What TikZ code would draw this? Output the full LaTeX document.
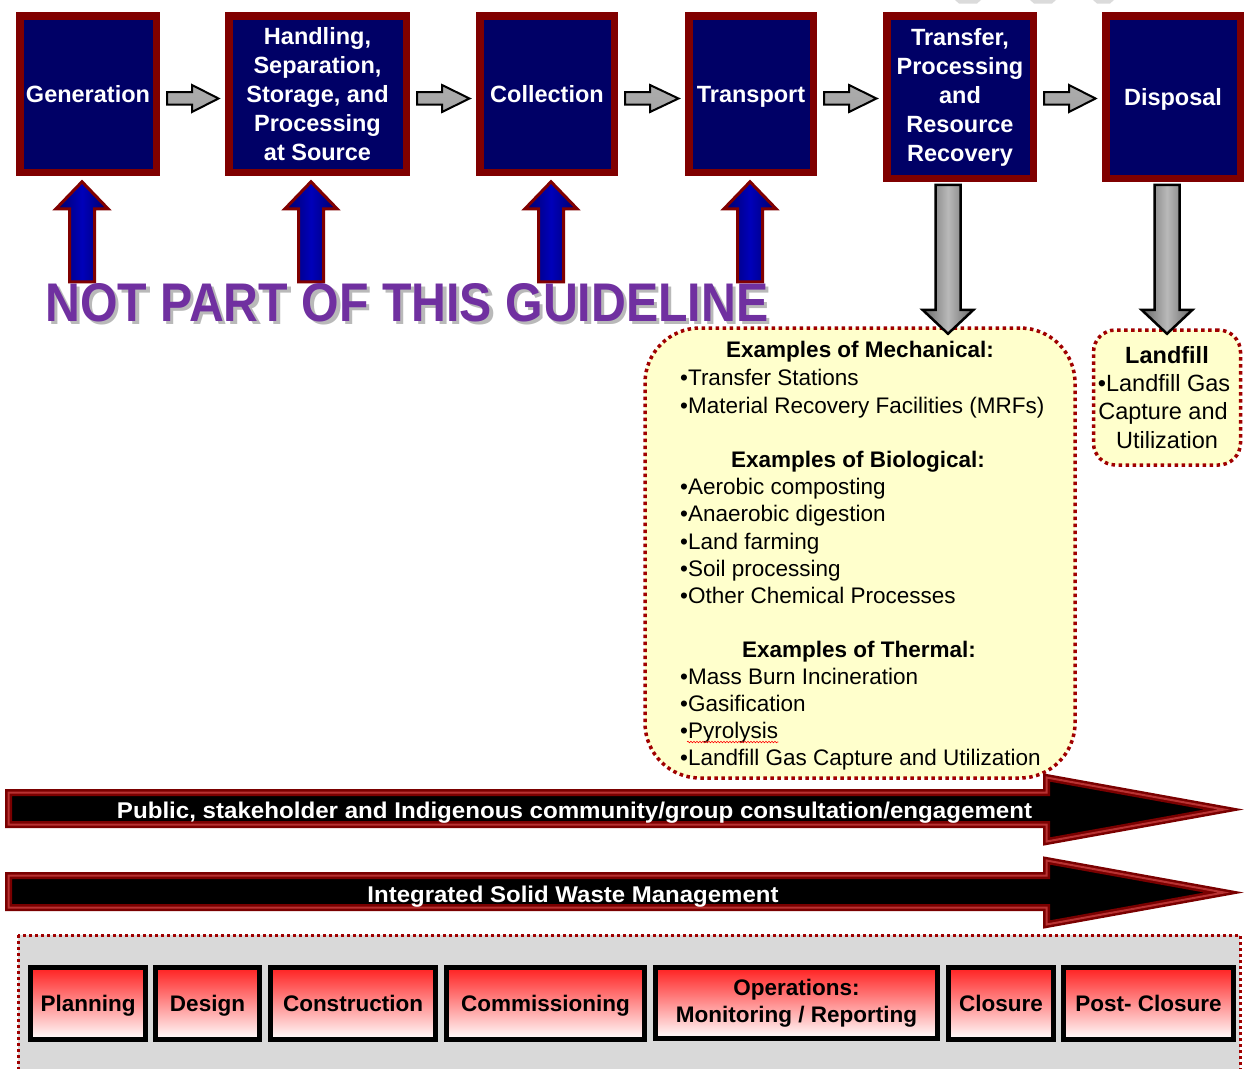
\documentclass[tikz,border=0pt]{standalone}
\usepackage{graphicx}
\usepackage{fontspec}
\setmainfont{Liberation Sans}
\usetikzlibrary{calc,decorations.pathmorphing}
\definecolor{boxnavy}{HTML}{000066}
\definecolor{boxred}{HTML}{800000}
\definecolor{dotred}{HTML}{A00000}
\definecolor{ylw}{HTML}{FFFFCC}
\definecolor{purp}{HTML}{7030A0}
\definecolor{panelgray}{HTML}{D9D9D9}
\definecolor{barred}{HTML}{7A0000}
\definecolor{barhi}{HTML}{B83232}
\definecolor{phred}{HTML}{FF2020}
\tikzset{
 stagebox/.style={draw=boxred, line width=7.5pt, fill=boxnavy, text=white,
   font=\fontsize{23.5pt}{29pt}\selectfont\bfseries, align=center, inner sep=0pt},
 stageone/.style={stagebox, text height=17pt, text depth=0pt},
 flowarr/.style={draw=black, line width=2pt, line join=miter, top color=gray!65, middle color=gray!15, bottom color=gray!70},
 guidearr/.style={draw=boxred, line width=3pt, line join=miter, left color=boxnavy, right color=boxnavy, middle color=blue!55!boxnavy},
 outarr/.style={draw=black, line width=2.5pt, line join=miter, left color=gray!80!black, right color=gray!80!black, middle color=gray!55},
 notebox/.style={draw=dotred, fill=ylw, line width=3.5pt, dash pattern=on 3.5pt off 3.5pt},
 notetext/.style={inner sep=0pt, font=\fontsize{22.5pt}{27pt}\selectfont},
 notehead/.style={inner sep=0pt, font=\fontsize{22.5pt}{27pt}\selectfont\bfseries, anchor=base},
 lftext/.style={inner sep=0pt, font=\fontsize{23.5pt}{29pt}\selectfont, anchor=base},
 barouter/.style={fill=black, draw=barred, line width=7pt, line join=miter},
 barinner/.style={draw=barhi, line width=2pt, line join=miter},
 bartext/.style={inner sep=0pt, text=white, font=\bfseries, anchor=base},
 panel/.style={draw=dotred, fill=panelgray, line width=3pt, dash pattern=on 3pt off 3pt},
 phasebase/.style={draw=black, line width=5pt, top color=phred, bottom color=white, inner sep=0pt,
   font=\fontsize{22.5pt}{27pt}\selectfont\bfseries, align=center},
 phase/.style={phasebase, text height=16.5pt, text depth=0pt, minimum height=72pt},
}
\newcommand{\flowarrow}[2]{%
 \path[flowarr] let \p1=($(#1.east)+(7pt,0)$), \p2=($(#2.west)+(-6.5pt,0)$) in
 (\x1,-92pt) -- ({\x1+25pt},-92pt) -- ({\x1+25pt},-85pt) -- (\x2,-98.5pt) --
 ({\x1+25pt},-112pt) -- ({\x1+25pt},-104.5pt) -- (\x1,-104.5pt) -- cycle;}
\newcommand{\guidearrow}[2]{%
 \path[guidearr] (#1.south) ++(#2,5.75) -- ++(26,27) -- ++(-13.5,0) -- ++(0,73)
 -- ++(-25,0) -- ++(0,-73) -- ++(-13.5,0) -- cycle;}
\newcommand{\outarrow}[2]{%
 \path[outarr] (#1.south) ++(#2,2.75) ++(-12.5,0) -- ++(0,125) -- ++(-13,0)
 -- ++(25.5,24) -- ++(25.5,-24) -- ++(-13,0) -- ++(0,-125) -- cycle;}
\newcommand{\barshape}[1]{%
 \path[#1] (8.5,792.5) -- (1046.5,792.5) -- (1046.5,777.5) -- (1224,809.5)
 -- (1046.5,841.5) -- (1046.5,824.5) -- (8.5,824.5) -- cycle;}
\begin{document}
\begin{tikzpicture}[x=1pt,y=-1pt]
\useasboundingbox (0,0) rectangle (1244,1068);
\fill[white] (0,0) rectangle (1244,1068);
% faint slivers at top edge
\fill[gray!28] (955,0) -- (981,0) -- (977,3.5) -- (959,3.5) -- cycle;
\fill[gray!28] (1030,0) -- (1056,0) -- (1052,3.5) -- (1034,3.5) -- cycle;
\fill[gray!28] (1093,0) -- (1114,0) -- (1110,3.5) -- (1097,3.5) -- cycle;

% top stages
\node[stageone, minimum width=136.5pt, minimum height=156.5pt] (gen) at (88,94) {Generation};
\node[stagebox, minimum width=177.5pt, minimum height=156.5pt] (hand) at (317.5,94)
 {Handling,\\Separation,\\Storage, and\\Processing\\at Source};
\node[stageone, minimum width=134.5pt, minimum height=156.5pt] (coll) at (547,94) {Collection};
\node[stageone, minimum width=124.5pt, minimum height=156.5pt] (trans) at (751,94) {Transport};
\node[stagebox, minimum width=146.5pt, minimum height=162.5pt] (tpr) at (960,97)
 {Transfer,\\Processing\\and\\Resource\\Recovery};
\node[stageone, minimum width=134.5pt, minimum height=162.5pt] (disp) at (1173,97) {Disposal};

\flowarrow{gen}{hand}
\flowarrow{hand}{coll}
\flowarrow{coll}{trans}
\flowarrow{trans}{tpr}
\flowarrow{tpr}{disp}

\guidearrow{gen}{-6}
\guidearrow{hand}{-6.5}
\guidearrow{coll}{4}
\guidearrow{trans}{-1}

% NOT PART label
\node[anchor=base west, inner sep=0pt, text=gray!55] (npshadow) at (48.5,324.5)
 {\resizebox{723pt}{38pt}{\bfseries NOT PART OF THIS GUIDELINE}};
\node[anchor=base west, inner sep=0pt, text=purp] (np) at (45,321)
 {\resizebox{723pt}{38pt}{\bfseries NOT PART OF THIS GUIDELINE}};

% note boxes
\node[notebox, minimum width=430pt, minimum height=450pt, rounded corners=55pt] (mech) at (860,553) {};
\node[notebox, minimum width=147pt, minimum height=135pt, rounded corners=22pt] (lf) at (1167,397.5) {};

\outarrow{tpr}{-12}
\outarrow{disp}{-6}

\node[notehead] (h1) at (860,357) {Examples of Mechanical:};
\node[notetext, anchor=base west] (a1) at (680,385) {•Transfer Stations};
\node[notetext, anchor=base west] (a2) at (680,413) {•Material Recovery Facilities (MRFs)};
\node[notehead] (h2) at (858,467) {Examples of Biological:};
\node[notetext, anchor=base west] (b1) at (680,494) {•Aerobic composting};
\node[notetext, anchor=base west] (b2) at (680,521) {•Anaerobic digestion};
\node[notetext, anchor=base west] (b3) at (680,549) {•Land farming};
\node[notetext, anchor=base west] (b4) at (680,576) {•Soil processing};
\node[notetext, anchor=base west] (b5) at (680,603) {•Other Chemical Processes};
\node[notehead] (h3) at (859,657) {Examples of Thermal:};
\node[notetext, anchor=base west] (c1) at (680,684) {•Mass Burn Incineration};
\node[notetext, anchor=base west] (c2) at (680,711) {•Gasification};
\node[notetext, anchor=base west] (c3) at (680,738) {•Pyrolysis};
\node[notetext, anchor=base west] (c4) at (680,765) {•Landfill Gas Capture and Utilization};
\draw[red, line width=0.6pt, decorate, decoration={snake, amplitude=0.8pt, segment length=3pt}]
 ($(c3.base west)+(7,4)$) -- ($(c3.base east)+(0,4)$);

\node[lftext, font=\fontsize{23.5pt}{29pt}\selectfont\bfseries] (lfh) at (1167,363) {Landfill};
\node[lftext] (lf1) at (1164,391) {•Landfill Gas};
\node[lftext] (lf2) at (1163,419) {Capture and};
\node[lftext] (lf3) at (1167,448) {Utilization};

% big bars
\barshape{barouter}
\barshape{barinner}
\begin{scope}[yshift=-83pt]
\barshape{barouter}
\barshape{barinner}
\end{scope}
\node[bartext] (pub) at (574.5,818)
 {\resizebox{915pt}{16.5pt}{Public, stakeholder and Indigenous community/group consultation/engagement}};
\node[bartext] (iswm) at (573,902)
 {\resizebox{411pt}{16.5pt}{Integrated Solid Waste Management}};

% lifecycle panel
\draw[panel] (18,935) rectangle (1240,1085);
\node[phase, minimum width=115pt] (plan) at (88,1003.5) {Planning};
\node[phase, minimum width=104pt] (des) at (207.5,1003.5) {Design};
\node[phase, minimum width=165pt] (cons) at (353,1003.5) {Construction};
\node[phase, minimum width=198pt] (comm) at (545.5,1003.5) {Commissioning};
\node[phasebase, minimum width=282pt, minimum height=71pt] (ops) at (796.5,1003) {Operations:\\Monitoring / Reporting};
\node[phase, minimum width=105pt] (clos) at (1001,1003.5) {Closure};
\node[phase, minimum width=170pt] (post) at (1148.5,1003.5) {Post- Closure};
\end{tikzpicture}
\end{document}
